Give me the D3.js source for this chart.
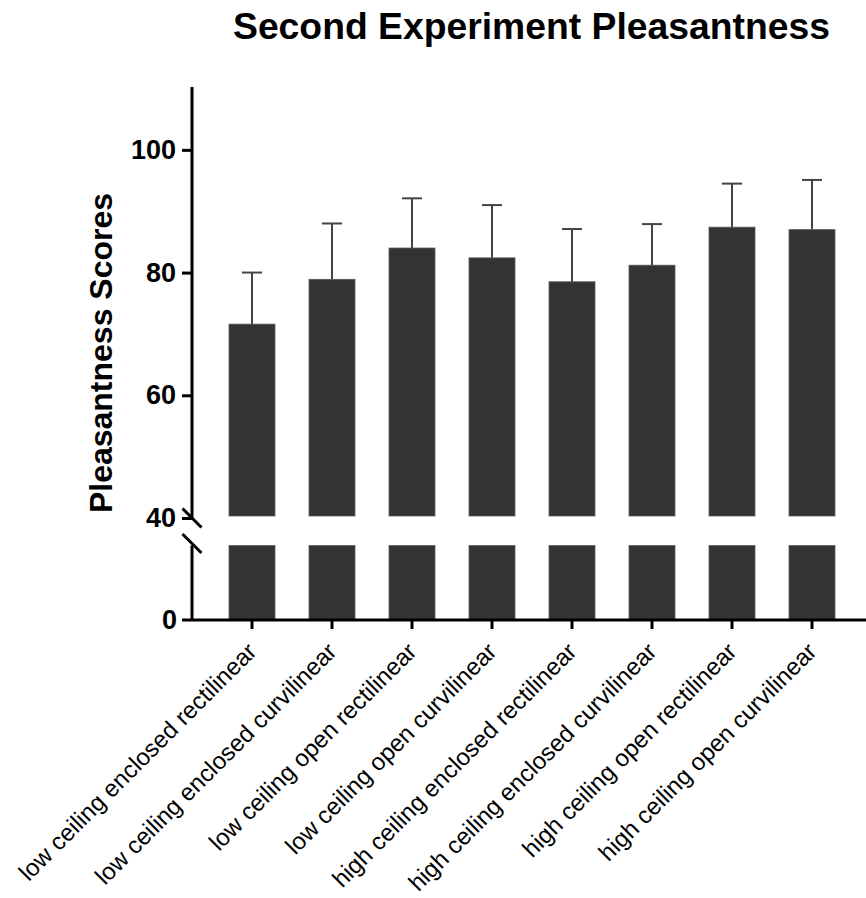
<!DOCTYPE html>
<html>
<head>
<meta charset="utf-8">
<script src="https://cdn.jsdelivr.net/npm/d3@7"></script>
<style>
  html, body { margin: 0; padding: 0; background: #fff; }
  svg { display: block; font-family: "Liberation Sans", Arial, Helvetica, sans-serif; }
</style>
</head>
<body>
<svg id="chart" width="866" height="898"></svg>
<script>
const categories = [
  "low ceiling enclosed rectilinear",
  "low ceiling enclosed curvilinear",
  "low ceiling open rectilinear",
  "low ceiling open curvilinear",
  "high ceiling enclosed rectilinear",
  "high ceiling enclosed curvilinear",
  "high ceiling open rectilinear",
  "high ceiling open curvilinear"
];
const means = [71.6, 78.9, 84.0, 82.4, 78.5, 81.2, 87.4, 87.0];
const sds   = [8.4, 9.1, 8.1, 8.6, 8.6, 6.7, 7.1, 8.1];
const upperTicks = [40, 60, 80, 100];
const lowerTicks = [0];
const titleText = "Second Experiment Pleasantness";
const yLabelText = "Pleasantness Scores";

const svg = d3.select("#chart");

const x = d3.scaleBand()
  .domain(categories)
  .range([212, 852])
  .paddingInner(0.425)
  .paddingOuter(0.2125);

const yUp = d3.scaleLinear().domain([40, 110]).range([518, 88.5]);
const yLo = d3.scaleLinear().domain([0, 40]).range([620, 545.5]);

const axisX = 192;
const barFill = "#333333";

// Bars: upper segment
svg.append("g").selectAll("rect")
  .data(means)
  .join("rect")
  .attr("x", (d, i) => x(categories[i]))
  .attr("width", x.bandwidth())
  .attr("y", d => yUp(d))
  .attr("height", d => yUp(40) - yUp(d) - 2)
  .attr("fill", barFill)
  .attr("stroke", "#5a5a5a")
  .attr("stroke-width", 0.8);

// Bars: lower segment
svg.append("g").selectAll("rect")
  .data(means)
  .join("rect")
  .attr("x", (d, i) => x(categories[i]))
  .attr("width", x.bandwidth())
  .attr("y", yLo(40))
  .attr("height", yLo(0) - yLo(40))
  .attr("fill", barFill)
  .attr("stroke", "#5a5a5a")
  .attr("stroke-width", 0.8);

// Error bars (upper only)
const eg = svg.append("g").attr("stroke", "#444").attr("stroke-width", 2);
means.forEach((m, i) => {
  const cx = x(categories[i]) + x.bandwidth() / 2;
  const top = yUp(m + sds[i]);
  eg.append("line").attr("x1", cx).attr("x2", cx).attr("y1", yUp(m)).attr("y2", top);
  eg.append("line").attr("x1", cx - 10).attr("x2", cx + 10).attr("y1", top).attr("y2", top);
});

// Y axis upper
const gyUp = svg.append("g")
  .attr("transform", `translate(${axisX},0)`)
  .call(d3.axisLeft(yUp).tickValues(upperTicks).tickSize(10).tickPadding(6));
gyUp.select(".domain").remove();
const gyLo = svg.append("g")
  .attr("transform", `translate(${axisX},0)`)
  .call(d3.axisLeft(yLo).tickValues(lowerTicks).tickSize(0).tickPadding(15));
gyLo.select(".domain").remove();
[gyUp, gyLo].forEach(g => {
  g.selectAll(".tick line").attr("stroke", "#000").attr("stroke-width", 3);
  g.selectAll(".tick text")
    .attr("fill", "#000")
    .style("font-size", "27px")
    .style("font-weight", "bold")
    .style("font-family", "'Liberation Sans', Arial, sans-serif");
});

// Y axis lines
svg.append("line")
  .attr("x1", axisX).attr("x2", axisX)
  .attr("y1", yUp(110) - 1.5).attr("y2", yUp(40))
  .attr("stroke", "#000").attr("stroke-width", 3);
svg.append("line")
  .attr("x1", axisX).attr("x2", axisX)
  .attr("y1", yLo(40)).attr("y2", yLo(0))
  .attr("stroke", "#000").attr("stroke-width", 3);

// Break slashes
[yUp(40), yLo(40) - 2].forEach(cy => {
  svg.append("line")
    .attr("x1", axisX - 9.5).attr("x2", axisX + 9.5)
    .attr("y1", cy - 9.5).attr("y2", cy + 9.5)
    .attr("stroke", "#000").attr("stroke-width", 3);
});

// X axis
const gx = svg.append("g")
  .attr("transform", `translate(0,${yLo(0)})`)
  .call(d3.axisBottom(x).tickSize(9).tickFormat(""));
gx.select(".domain").remove();
gx.selectAll(".tick line").attr("stroke", "#000").attr("stroke-width", 3);
svg.append("line")
  .attr("x1", 182).attr("x2", 866)
  .attr("y1", yLo(0)).attr("y2", yLo(0))
  .attr("stroke", "#000").attr("stroke-width", 3);

// X labels
svg.append("g").selectAll("text")
  .data(categories)
  .join("text")
  .attr("transform", d => `translate(${x(d) + x.bandwidth() / 2 + 6},653) rotate(-45)`)
  .attr("text-anchor", "end")
  .style("font-size", "24px")
  .attr("fill", "#000")
  .text(d => d);

// Title
svg.append("text")
  .attr("x", 531.5).attr("y", 39)
  .attr("text-anchor", "middle")
  .style("font-size", "37.3px")
  .style("font-weight", "bold")
  .attr("fill", "#000")
  .text(titleText);

// Y label
svg.append("text")
  .attr("transform", "translate(112,353) rotate(-90)")
  .attr("text-anchor", "middle")
  .style("font-size", "32px")
  .style("font-weight", "bold")
  .attr("fill", "#000")
  .text(yLabelText);
</script>
</body>
</html>
